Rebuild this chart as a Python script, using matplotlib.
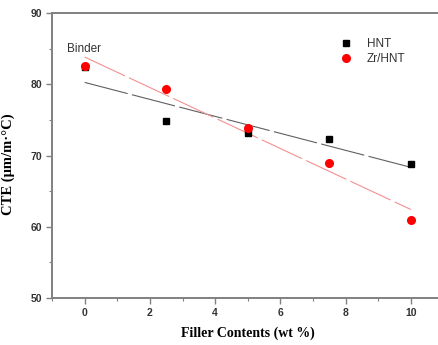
import numpy as np
import matplotlib.pyplot as plt

# Dados
filler = [0, 2.5, 5, 7.5, 10]
cte_hnt = [82.4, 74.9, 73.1, 72.3, 68.8]
cte_zr = [82.5, 79.4, 73.8, 68.9, 61.0]

x_ticks = [0, 2, 4, 6, 8, 10]
y_ticks = [50, 60, 70, 80, 90]

W, H = 439, 345
fig = plt.figure(figsize=(W / 100, H / 100), dpi=100)
fig.patch.set_facecolor("white")

# eixo estendido para a direita (a borda direita fica cortada, como na imagem)
ax = fig.add_axes([52 / W, (H - 298) / H, (443.5 - 52) / W, (298 - 13) / H])

# ajuste linear de cada série
xf = np.array([filler[0], filler[-1]], dtype=float)
p_hnt = np.polyfit(filler, cte_hnt, 1)
p_zr = np.polyfit(filler, cte_zr, 1)
ax.plot(xf, np.polyval(p_hnt, xf), color="#606060", lw=0.8, ls=(0, (40, 4)), zorder=2)
ax.plot(xf, np.polyval(p_zr, xf), color="#f49090", lw=0.8, ls=(0, (40, 4)), zorder=2)

ax.plot(filler, cte_hnt, ls="none", marker="s", ms=4.5, color="black", label="HNT", zorder=3)
ax.plot(filler, cte_zr, ls="none", marker="o", ms=5.5, color="red", mec="red", label="Zr/HNT", zorder=4)

ax.set_xlim(-1, 11)
ax.set_ylim(50, 90)
ax.set_xticks(x_ticks)
ax.set_yticks(y_ticks)
ax.set_xticks(np.arange(-1, 11, 2), minor=True)
ax.set_yticks(np.arange(55, 90, 10), minor=True)

for s in ax.spines.values():
    s.set_color("#808080")
    s.set_linewidth(1.4)

ax.tick_params(which="major", direction="out", length=4, width=1.0, color="#808080",
               labelsize=7.5, labelcolor="#333333", pad=3)
ax.tick_params(which="minor", direction="out", length=2, width=0.8, color="#808080")
for lbl in ax.get_xticklabels() + ax.get_yticklabels():
    lbl.set_fontweight("bold")
    lbl.set_family("Liberation Sans")

ax.set_xlabel("Filler Contents (wt %)", family="Liberation Serif", fontweight="bold",
              fontsize=10)
ax.xaxis.set_label_coords(0.5, -0.1)
ax.set_ylabel("CTE (\u03bcm/m\u00b7\u00b0C)", family="Liberation Serif", fontweight="bold",
              fontsize=10.5)
ax.yaxis.set_label_coords(-0.095, 0.47)

ax.text(-0.55, 85.0, "Binder", family="Liberation Sans", fontsize=8.5, color="#333333",
        va="center", ha="left")

leg = ax.legend(loc="upper left", bbox_to_anchor=(0.71, 0.95), frameon=False,
                prop={"family": "Liberation Sans", "size": 8.5},
                handlelength=1.0, handletextpad=1.2, labelspacing=0.3)
for t in leg.get_texts():
    t.set_color("#333333")

fig.savefig("out.png", dpi=100, facecolor="white")
plt.close(fig)
